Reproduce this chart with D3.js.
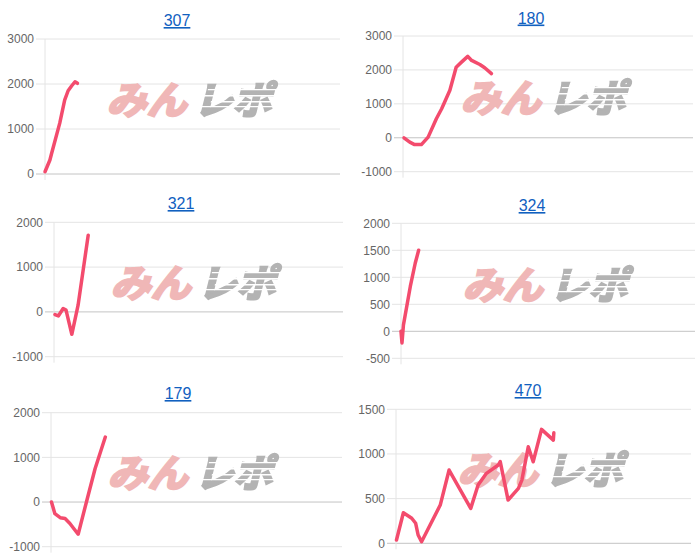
<!DOCTYPE html>
<html>
<head>
<meta charset="utf-8">
<script src="https://cdn.jsdelivr.net/npm/d3@7"></script>
<style>
  body { margin: 0; background: #fff; }
  svg { display: block; }
</style>
</head>
<body id="body">
<svg></svg>
<script>
// chart titles (links)
var titles = ["307", "180", "321", "324", "179", "470"];

// y tick values per panel
var ticks1 = [0, 1000, 2000, 3000];
var ticks2 = [-1000, 0, 1000, 2000, 3000];
var ticks3 = [-1000, 0, 1000, 2000];
var ticks4 = [-500, 0, 500, 1000, 1500, 2000];
var ticks5 = [-1000, 0, 1000, 2000];
var ticks6 = [0, 500, 1000, 1500];

// series: day index and value
var days1 = [0, 1, 1.3, 3, 4, 4.7, 5.4, 6.1, 6.6];
var values1 = [50, 310, 440, 1130, 1640, 1850, 1955, 2050, 2015];

var days2 = [0.2, 1.4, 2.4, 3.8, 5.2, 6.9, 8, 9.7, 11, 12.1, 13.4, 14.2, 15.9, 16.9, 18.3];
var values2 = [0, -130, -200, -200, 20, 560, 855, 1400, 2080, 2230, 2400, 2280, 2160, 2065, 1890];

var days3 = [0.2, 0.9, 1.9, 2.5, 3.7, 5, 7.1];
var values3 = [-60, -90, 75, 40, -500, 150, 1710];

var days4 = [0, 0.2, 0.5, 1.9, 2.9, 3.6];
var values4 = [0, -215, 120, 830, 1260, 1500];

var days5 = [0.1, 0.8, 1.9, 2.9, 3.9, 5.6, 7.4, 9.1, 11.2];
var values5 = [0, -260, -350, -370, -480, -720, 40, 750, 1455];

var days6 = [0.1, 1.5, 3.2, 4, 4.5, 5.2, 9, 10.8, 15.2, 16.7, 18.4, 20.8, 21.2, 22.8, 24.9, 25.6, 26.9, 27.9, 29.6, 32, 32.1];
var values6 = [37, 342, 280, 224, 93, 18, 428, 820, 391, 652, 783, 876, 915, 484, 615, 708, 1081, 913, 1275, 1155, 1237];

var dayDomain = [0, 60];

// layout of each small chart
var panels = [
  {title: titles[0], ticks: ticks1, days: days1, values: values1, left: 45, right: 340, top: 39, bottom: 174, tx: 177, ty: 26, wx: 194, wy: 97},
  {title: titles[1], ticks: ticks2, days: days2, values: values2, left: 403, right: 693, top: 36, bottom: 171.7, tx: 531, ty: 23.5, wx: 548, wy: 95},
  {title: titles[2], ticks: ticks3, days: days3, values: values3, left: 54, right: 343, top: 222.3, bottom: 356.7, tx: 181, ty: 209, wx: 198, wy: 280},
  {title: titles[3], ticks: ticks4, days: days4, values: values4, left: 401, right: 695, top: 223.3, bottom: 358.3, tx: 532, ty: 211, wx: 550, wy: 282},
  {title: titles[4], ticks: ticks5, days: days5, values: values5, left: 51, right: 342, top: 412.7, bottom: 546.7, tx: 178, ty: 399, wx: 195, wy: 470},
  {title: titles[5], ticks: ticks6, days: days6, values: values6, left: 396, right: 691, top: 409.3, bottom: 543.3, tx: 528, ty: 396, wx: 545, wy: 467}
];

var width = 700, height = 560;
var svg = d3.select("svg").attr("width", width).attr("height", height);

var defs = svg.append("defs");
var mask = defs.append("mask")
  .attr("id", "speed")
  .attr("maskUnits", "userSpaceOnUse")
  .attr("x", -120).attr("y", -60).attr("width", 240).attr("height", 120);
mask.append("rect")
  .attr("x", -120).attr("y", -60).attr("width", 240).attr("height", 120)
  .attr("fill", "#fff");
[[-8, 1.3, 12], [-2, 1.5, 0], [4, 1.5, 18], [9, 1.3, 6]].forEach(function (s) {
  mask.append("rect")
    .attr("x", s[2]).attr("y", s[0]).attr("width", 90).attr("height", s[1])
    .attr("fill", "#000");
});

panels.forEach(function (p) {
  var g = svg.append("g");

  var x = d3.scaleLinear().domain(dayDomain).range([p.left, p.right]);
  var y = d3.scaleLinear()
    .domain([d3.min(p.ticks), d3.max(p.ticks)])
    .range([p.bottom, p.top]);

  // gridlines
  g.append("g").selectAll("line")
    .data(p.ticks)
    .enter().append("line")
    .attr("x1", p.left - 9)
    .attr("x2", p.right)
    .attr("y1", function (d) { return y(d); })
    .attr("y2", function (d) { return y(d); })
    .attr("stroke", function (d) { return d === 0 ? "#c4c4c4" : "#e4e4e4"; })
    .attr("stroke-width", 1);

  g.append("line")
    .attr("x1", p.left).attr("x2", p.left)
    .attr("y1", p.top).attr("y2", p.bottom + 6)
    .attr("stroke", "#e4e4e4");

  // tick labels
  g.append("g").selectAll("text")
    .data(p.ticks)
    .enter().append("text")
    .attr("x", p.left - 11)
    .attr("y", function (d) { return y(d); })
    .attr("dy", "0.36em")
    .attr("text-anchor", "end")
    .attr("font-family", "'Liberation Sans', Arial, sans-serif")
    .attr("font-size", 12)
    .attr("fill", "#666")
    .text(function (d) { return d; });

  // watermark
  var wm = g.append("g")
    .attr("transform", "translate(" + p.wx + "," + p.wy + ") skewX(-14)");
  wm.append("text")
    .attr("x", -83).attr("y", 0)
    .attr("dominant-baseline", "central")
    .attr("font-family", "'Noto Sans CJK JP', sans-serif")
    .attr("font-weight", "bold")
    .attr("font-size", 38)
    .attr("textLength", 80)
    .attr("lengthAdjust", "spacingAndGlyphs")
    .attr("fill", "#f0b7b7")
    .attr("stroke", "#f0b7b7")
    .attr("stroke-width", 2.6)
    .attr("stroke-linejoin", "miter")
    .text("みん");
  wm.append("text")
    .attr("x", 4).attr("y", 0)
    .attr("dominant-baseline", "central")
    .attr("font-family", "'Noto Sans CJK JP', sans-serif")
    .attr("font-weight", "bold")
    .attr("font-size", 38)
    .attr("textLength", 78)
    .attr("lengthAdjust", "spacingAndGlyphs")
    .attr("fill", "#b3b3b3")
    .attr("stroke", "#b3b3b3")
    .attr("stroke-width", 2.6)
    .attr("mask", "url(#speed)")
    .text("レポ");

  // series line
  var pts = p.days.map(function (d, i) { return [d, p.values[i]]; });
  var line = d3.line()
    .x(function (d) { return x(d[0]); })
    .y(function (d) { return y(d[1]); });
  g.append("path")
    .datum(pts)
    .attr("d", line)
    .attr("fill", "none")
    .attr("stroke", "#f34b6d")
    .attr("stroke-width", 3.5)
    .attr("stroke-linejoin", "round")
    .attr("stroke-linecap", "round");

  // title link
  g.append("a")
    .attr("href", "#")
    .append("text")
    .attr("x", p.tx)
    .attr("y", p.ty)
    .attr("text-anchor", "middle")
    .attr("font-family", "'Liberation Sans', Arial, sans-serif")
    .attr("font-size", 16)
    .attr("fill", "#1160bf")
    .attr("text-decoration", "underline")
    .text(p.title);
});
</script>
</body>
</html>
